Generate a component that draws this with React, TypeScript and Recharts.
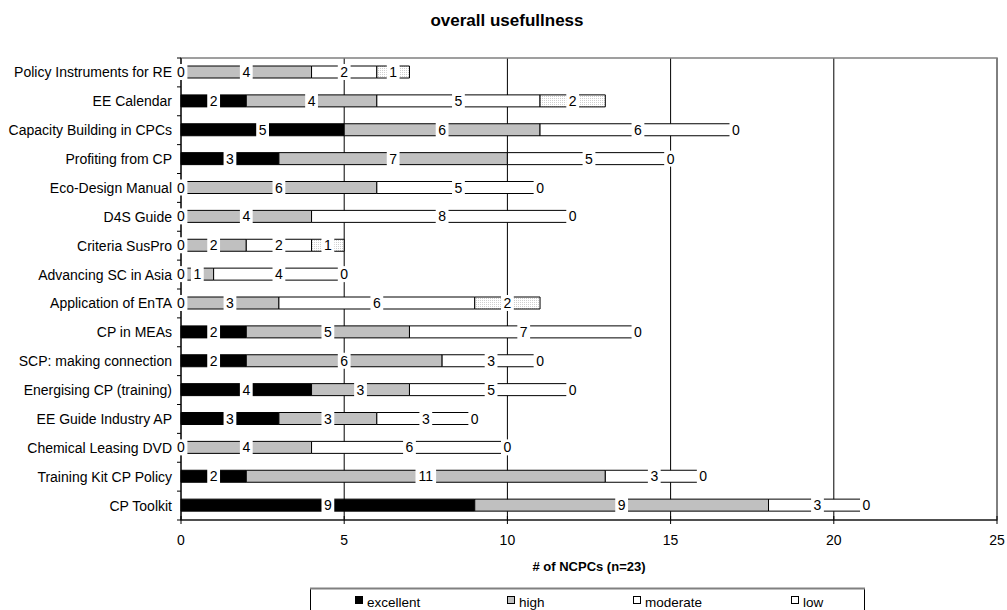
import React from 'react';
import { BarChart, Bar, XAxis, YAxis, CartesianGrid, ReferenceArea, LabelList } from 'recharts';

const categories = [
  'Policy Instruments for RE',
  'EE Calendar',
  'Capacity Building in CPCs',
  'Profiting from CP',
  'Eco-Design Manual',
  'D4S Guide',
  'Criteria SusPro',
  'Advancing SC in Asia',
  'Application of EnTA',
  'CP in MEAs',
  'SCP: making connection',
  'Energising CP (training)',
  'EE Guide Industry AP',
  'Chemical Leasing DVD',
  'Training Kit CP Policy',
  'CP Toolkit',
];
const excellent = [0, 2, 5, 3, 0, 0, 0, 0, 0, 2, 2, 4, 3, 0, 2, 9];
const high = [4, 4, 6, 7, 6, 4, 2, 1, 3, 5, 6, 3, 3, 4, 11, 9];
const moderate = [2, 5, 6, 5, 5, 8, 2, 4, 6, 7, 3, 5, 3, 6, 3, 3];
const low = [1, 2, 0, 0, 0, 0, 1, 0, 2, 0, 0, 0, 0, 0, 0, 0];
const xTicks = [0, 5, 10, 15, 20, 25];

const TITLE = 'overall usefullness';
const X_LABEL = '# of NCPCs (n=23)';

const series = [
  { key: 'excellent', name: 'excellent', fill: '#000000', legendX: 355 },
  { key: 'high', name: 'high', fill: '#c0c0c0', legendX: 507 },
  { key: 'moderate', name: 'moderate', fill: '#ffffff', legendX: 633 },
  { key: 'low', name: 'low', fill: 'url(#lowPattern)', legendX: 791 },
];

const rows = categories.map((name, i) => ({
  name,
  excellent: excellent[i],
  high: high[i],
  moderate: moderate[i],
  low: low[i],
  total: excellent[i] + high[i] + moderate[i] + low[i],
}));

const FONT = '"Liberation Sans", Arial, sans-serif';
const W = 1007;
const H = 610;
const MARGIN = { top: 58, right: 10, left: 0, bottom: 60 };
const Y_AXIS_W = 181;
const X_AXIS_H = 30;
const PLOT_H = H - MARGIN.top - MARGIN.bottom - X_AXIS_H;
const BAND = PLOT_H / categories.length;

const YTick = (props: any) => {
  const { x, y, payload, index } = props;
  const last = index === categories.length - 1;
  return (
    <g>
      <line x1={x - 4} x2={x} y1={y - BAND / 2} y2={y - BAND / 2} stroke="#000" />
      {last && <line x1={x - 4} x2={x} y1={y + BAND / 2} y2={y + BAND / 2} stroke="#000" />}
      <text x={x - 9} y={y + 5} textAnchor="end" fontSize={14} fontFamily={FONT} fill="#000">
        {payload.value}
      </text>
    </g>
  );
};

const XTick = (props: any) => {
  const { x, y, payload } = props;
  return (
    <g>
      <line x1={x} x2={x} y1={y - 4} y2={y + 4} stroke="#000" />
      <text x={x} y={y + 25} textAnchor="middle" fontSize={14} fontFamily={FONT} fill="#000">
        {payload.value}
      </text>
    </g>
  );
};

const renderSegmentLabels = (props: any) => {
  const vb = props.viewBox || props;
  const x = Number(props.x ?? vb.x);
  const y = Number(props.y ?? vb.y);
  const width = Number(props.width ?? vb.width);
  const height = Number(props.height ?? vb.height);
  const row = rows.find((r) => r.name === props.value);
  if (!row || !row.total) return null;
  const k = width / row.total;
  const cy = y + height / 2;
  let acc = 0;
  return (
    <g>
      {series.map((s) => {
        const v = (row as any)[s.key] as number;
        const cx = x + (acc + v / 2) * k;
        acc += v;
        const tw = String(v).length * 7.8;
        return (
          <g key={s.key}>
            <rect x={cx - tw / 2 - 2.5} y={cy - 8} width={tw + 5} height={16} fill="#fff" />
            <text x={cx} y={cy + 5} textAnchor="middle" fontSize={14} fontFamily={FONT} fill="#000">
              {v}
            </text>
          </g>
        );
      })}
    </g>
  );
};

export default function App() {
  return (
    <div style={{ position: 'absolute', left: 0, top: 0, width: W, height: H, background: '#fff', fontFamily: FONT }}>
      <BarChart
        width={W}
        height={H}
        data={rows}
        layout="vertical"
        margin={MARGIN}
        barSize={12}
        barGap={-12}
      >
        <defs>
          <pattern id="lowPattern" width="2" height="2" patternUnits="userSpaceOnUse">
            <rect width="2" height="2" fill="#ffffff" />
            <rect width="1" height="1" fill="#cfcfcf" />
          </pattern>
        </defs>
        <CartesianGrid horizontal={false} stroke="#000" strokeWidth={1} />
        <ReferenceArea x1={0} x2={25} fill="none" stroke="#808080" strokeWidth={1.5} ifOverflow="extendDomain" />
        <XAxis
          type="number"
          domain={[0, 25]}
          ticks={xTicks}
          height={X_AXIS_H}
          tick={<XTick />}
          tickLine={false}
          tickSize={0}
          tickMargin={0}
          axisLine={{ stroke: '#000' }}
          label={{
            value: X_LABEL,
            position: 'bottom',
            offset: 12,
            style: { fontSize: 13, fontWeight: 'bold', fontFamily: FONT, fill: '#000' },
          }}
        />
        <YAxis
          type="category"
          dataKey="name"
          width={Y_AXIS_W}
          tick={<YTick />}
          tickLine={false}
          tickSize={0}
          tickMargin={0}
          interval={0}
          axisLine={{ stroke: '#000' }}
        />
        {series.map((s) => (
          <Bar
            key={s.key}
            dataKey={s.key}
            name={s.name}
            stackId="a"
            fill={s.fill}
            stroke="#000"
            strokeWidth={1}
            isAnimationActive={false}
          />
        ))}
        <Bar dataKey="total" fill="transparent" stroke="none" isAnimationActive={false}>
          <LabelList dataKey="name" content={renderSegmentLabels} />
        </Bar>
      </BarChart>
      <svg
        width={W}
        height={H}
        style={{ position: 'absolute', left: 0, top: 0, pointerEvents: 'none' }}
      >
        <text x={507} y={26} textAnchor="middle" fontSize={17} fontWeight="bold" fontFamily={FONT} fill="#000">
          {TITLE}
        </text>
        <rect x={310.5} y={588.5} width={554} height={30} fill="#fff" stroke="#000" />
        <line x1={310} x2={865} y1={588.5} y2={588.5} stroke="#808080" strokeWidth={2} />
        {series.map((s) => (
          <g key={s.key}>
            <rect x={s.legendX + 0.5} y={596.5} width={7} height={7} fill={s.key === 'low' ? '#fff' : s.fill} stroke="#000" />
            <text x={s.legendX + 12} y={607} fontSize={13.5} fontFamily={FONT} fill="#000">
              {s.name}
            </text>
          </g>
        ))}
      </svg>
    </div>
  );
}
